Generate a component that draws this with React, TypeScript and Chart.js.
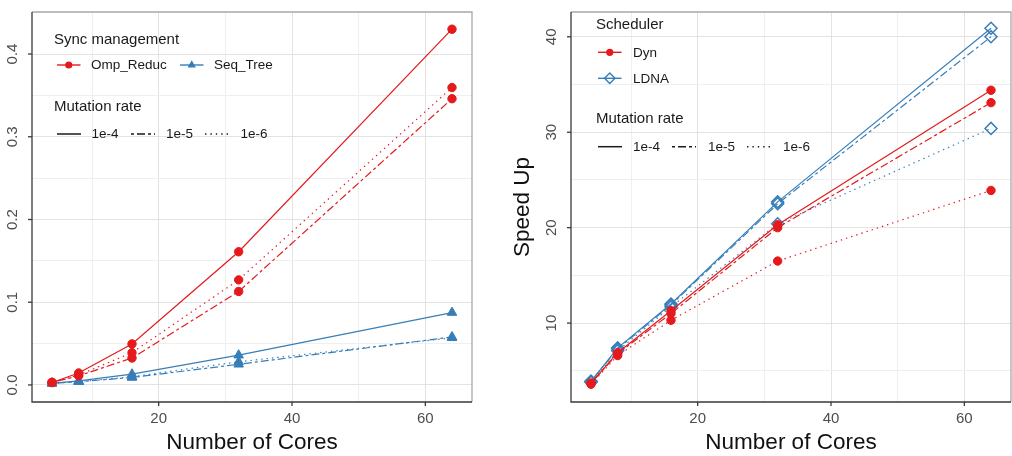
import React, { useEffect, useRef } from 'react';
import { Chart, registerables } from 'chart.js';

Chart.register(...registerables);

// ---------- data ----------
const cores = [4, 8, 16, 32, 64];

// Left panel: time (Sync management)
const ompReduc_1e4 = [0.003, 0.0145, 0.0496, 0.161, 0.43];
const ompReduc_1e5 = [0.003, 0.011, 0.0326, 0.113, 0.346];
const ompReduc_1e6 = [0.003, 0.012, 0.039, 0.127, 0.3595];
const seqTree_1e4 = [0.002, 0.005, 0.013, 0.036, 0.0875];
const seqTree_1e5 = [0.002, 0.004, 0.009, 0.025, 0.058];
const seqTree_1e6 = [0.002, 0.004, 0.01, 0.028, 0.057];

// Right panel: Speed Up (Scheduler)
const dyn_1e4 = [3.7, 6.9, 11.3, 20.3, 34.4];
const dyn_1e5 = [3.7, 6.8, 11.0, 20.0, 33.1];
const dyn_1e6 = [3.6, 6.6, 10.3, 16.5, 23.9];
const ldna_1e4 = [3.9, 7.4, 12.0, 22.7, 40.9];
const ldna_1e5 = [3.9, 7.3, 11.9, 22.5, 40.0];
const ldna_1e6 = [3.8, 7.1, 11.7, 20.4, 30.4];

const xTickValues = [20, 40, 60];
const xGridValues = [10, 20, 30, 40, 50, 60];
const leftYTicks = [0, 0.1, 0.2, 0.3, 0.4];
const leftYTickLabels = ['0.0', '0.1', '0.2', '0.3', '0.4'];
const leftYGrid = [0, 0.05, 0.1, 0.15, 0.2, 0.25, 0.3, 0.35, 0.4];
const rightYTicks = [10, 20, 30, 40];
const rightYTickLabels = ['10', '20', '30', '40'];
const rightYGrid = [5, 10, 15, 20, 25, 30, 35, 40];
const mutationRates = ['1e-4', '1e-5', '1e-6'];
const syncLabels = ['Omp_Reduc', 'Seq_Tree'];
const schedLabels = ['Dyn', 'LDNA'];

// ---------- styles ----------
const RED = '#E41A1C';
const BLUE = '#377EB8';
const FONT = '"Liberation Sans", Arial, sans-serif';
const DASHES: number[][] = [[], [3, 3, 8, 3], [1.4, 4]];

type Marker = 'circle' | 'triangle' | 'diamond';

function markerOpts(m: Marker, color: string) {
  if (m === 'circle') return { pointStyle: 'circle', pointRadius: 4.2, pointBackgroundColor: color, pointBorderColor: color, pointBorderWidth: 1 };
  if (m === 'triangle') return { pointStyle: 'triangle', pointRadius: 5.5, pointBackgroundColor: color, pointBorderColor: color, pointBorderWidth: 1 };
  return { pointStyle: 'rectRot', pointRadius: 6, pointBackgroundColor: 'rgba(255,255,255,0)', pointBorderColor: color, pointBorderWidth: 1.5 };
}

function ds(label: string, vals: number[], color: string, dashIdx: number, m: Marker) {
  return {
    label,
    data: cores.map((c, i) => ({ x: c, y: vals[i] })),
    borderColor: color,
    backgroundColor: color,
    borderWidth: 1.2,
    borderDash: DASHES[dashIdx],
    borderCapStyle: 'butt',
    tension: 0,
    fill: false,
    clip: false,
    ...markerOpts(m, color),
  };
}

function drawMarker(ctx: CanvasRenderingContext2D, m: Marker, x: number, y: number, color: string, r: number) {
  ctx.save();
  ctx.setLineDash([]);
  ctx.fillStyle = color;
  ctx.strokeStyle = color;
  ctx.beginPath();
  if (m === 'circle') {
    ctx.arc(x, y, r, 0, Math.PI * 2);
    ctx.fill();
  } else if (m === 'triangle') {
    for (let k = 0; k < 3; k++) {
      const a = -Math.PI / 2 + (k * 2 * Math.PI) / 3;
      const px = x + Math.cos(a) * r;
      const py = y + Math.sin(a) * r;
      if (k === 0) ctx.moveTo(px, py);
      else ctx.lineTo(px, py);
    }
    ctx.closePath();
    ctx.fill();
  } else {
    ctx.lineWidth = 1.4;
    ctx.moveTo(x, y - r);
    ctx.lineTo(x + r, y);
    ctx.lineTo(x, y + r);
    ctx.lineTo(x - r, y);
    ctx.closePath();
    ctx.stroke();
  }
  ctx.restore();
}

function keyLine(ctx: CanvasRenderingContext2D, x1: number, x2: number, y: number, color: string, dash: number[], width = 1.4) {
  ctx.save();
  ctx.strokeStyle = color;
  ctx.lineWidth = width;
  ctx.setLineDash(dash);
  ctx.beginPath();
  ctx.moveTo(x1, y);
  ctx.lineTo(x2, y);
  ctx.stroke();
  ctx.restore();
}

type LegendSpec = {
  x0: number;
  title1: string;
  title1Y: number;
  entries: { label: string; color: string; marker: Marker; kx: number; tx: number; y: number }[];
  title2Y: number;
  lineRowY: number;
  lineKeys: { kx: number; tx: number }[];
};

function drawLegend(ctx: CanvasRenderingContext2D, L: LegendSpec) {
  ctx.save();
  ctx.fillStyle = '#1a1a1a';
  ctx.textAlign = 'left';
  ctx.textBaseline = 'alphabetic';
  ctx.font = `15px ${FONT}`;
  ctx.fillText(L.title1, L.x0, L.title1Y);
  ctx.fillText('Mutation rate', L.x0, L.title2Y);
  ctx.font = `13.5px ${FONT}`;
  ctx.textBaseline = 'middle';
  L.entries.forEach((e) => {
    keyLine(ctx, e.kx, e.kx + 23.5, e.y, e.color, []);
    drawMarker(ctx, e.marker, e.kx + 11.75, e.y, e.color, e.marker === 'circle' ? 3.6 : e.marker === 'triangle' ? 4.8 : 5.2);
    ctx.fillStyle = '#1a1a1a';
    ctx.fillText(e.label, e.tx, e.y + 0.5);
  });
  L.lineKeys.forEach((k, i) => {
    keyLine(ctx, k.kx, k.kx + 24, L.lineRowY, '#1a1a1a', DASHES[i], 1.5);
    ctx.fillStyle = '#1a1a1a';
    ctx.fillText(mutationRates[i], k.tx, L.lineRowY + 0.5);
  });
  ctx.restore();
}

type PanelSpec = {
  yTicks: number[];
  yLabels: string[];
  yTitle?: string;
  yTitleX?: number;
  legend: LegendSpec;
};

function decorPlugin(p: PanelSpec) {
  return {
    id: 'decor',
    afterDraw(chart: any) {
      const ctx: CanvasRenderingContext2D = chart.ctx;
      const a = chart.chartArea;
      const sx = chart.scales.x;
      const sy = chart.scales.y;
      ctx.save();
      ctx.setLineDash([]);
      ctx.lineWidth = 1.3;
      ctx.strokeStyle = '#a8a8a8';
      ctx.beginPath();
      ctx.moveTo(a.left, a.top);
      ctx.lineTo(a.right, a.top);
      ctx.lineTo(a.right, a.bottom);
      ctx.stroke();
      ctx.strokeStyle = '#3a3a3a';
      ctx.beginPath();
      ctx.moveTo(a.left, a.top);
      ctx.lineTo(a.left, a.bottom);
      ctx.lineTo(a.right, a.bottom);
      ctx.stroke();

      ctx.font = `15px ${FONT}`;
      ctx.fillStyle = '#4d4d4d';
      ctx.textAlign = 'center';
      ctx.textBaseline = 'alphabetic';
      xTickValues.forEach((v) => {
        const px = sx.getPixelForValue(v);
        ctx.beginPath();
        ctx.moveTo(px, a.bottom);
        ctx.lineTo(px, a.bottom + 4);
        ctx.stroke();
        ctx.fillText(String(v), px, a.bottom + 20.7);
      });
      p.yTicks.forEach((v, i) => {
        const py = sy.getPixelForValue(v);
        ctx.beginPath();
        ctx.moveTo(a.left - 4, py);
        ctx.lineTo(a.left, py);
        ctx.stroke();
        ctx.save();
        ctx.translate(a.left - 15.5, py);
        ctx.rotate(-Math.PI / 2);
        ctx.fillText(p.yLabels[i], 0, 0);
        ctx.restore();
      });

      ctx.fillStyle = '#111';
      ctx.font = `22.5px ${FONT}`;
      ctx.fillText('Number of Cores', (a.left + a.right) / 2, a.bottom + 47);
      if (p.yTitle) {
        ctx.save();
        ctx.translate(p.yTitleX as number, (a.top + a.bottom) / 2);
        ctx.rotate(-Math.PI / 2);
        ctx.fillText(p.yTitle, 0, 0);
        ctx.restore();
      }

      drawLegend(ctx, p.legend);
      ctx.restore();
    },
  };
}

function buildConfig(opts: {
  datasets: any[];
  yMin: number;
  yMax: number;
  yGrid: number[];
  yAxisWidth: number;
  padRight: number;
  panel: PanelSpec;
}) {
  return {
    type: 'line',
    data: { datasets: opts.datasets },
    options: {
      animation: false,
      responsive: false,
      devicePixelRatio: 1,
      layout: { autoPadding: false, padding: { top: 12, right: opts.padRight, left: 0, bottom: 0 } },
      plugins: { legend: { display: false }, tooltip: { enabled: false } },
      scales: {
        x: {
          type: 'linear',
          min: 1,
          max: 67,
          afterBuildTicks: (s: any) => {
            s.ticks = xGridValues.map((v) => ({ value: v }));
          },
          afterFit: (s: any) => {
            s.height = 54;
          },
          ticks: { display: false },
          grid: {
            drawTicks: false,
            color: (c: any) => (c.tick && c.tick.value % 20 === 0 ? '#e3e3e3' : '#efefef'),
            lineWidth: 1,
          },
          border: { display: false },
        },
        y: {
          type: 'linear',
          min: opts.yMin,
          max: opts.yMax,
          afterBuildTicks: (s: any) => {
            s.ticks = opts.yGrid.map((v) => ({ value: v }));
          },
          afterFit: (s: any) => {
            s.width = opts.yAxisWidth;
          },
          ticks: { display: false },
          grid: {
            drawTicks: false,
            color: (c: any) => {
              if (!c.tick) return '#efefef';
              const isMajor = opts.panel.yTicks.some((t) => Math.abs(t - c.tick.value) < 1e-9);
              return isMajor ? '#e3e3e3' : '#efefef';
            },
            lineWidth: 1,
          },
          border: { display: false },
        },
      },
    },
    plugins: [decorPlugin(opts.panel)],
  };
}

const leftPanel: PanelSpec = {
  yTicks: leftYTicks,
  yLabels: leftYTickLabels,
  legend: {
    x0: 54,
    title1: 'Sync management',
    title1Y: 44,
    entries: [
      { label: syncLabels[0], color: RED, marker: 'circle', kx: 57, tx: 91, y: 65 },
      { label: syncLabels[1], color: BLUE, marker: 'triangle', kx: 180, tx: 214, y: 65 },
    ],
    title2Y: 110.5,
    lineRowY: 134,
    lineKeys: [
      { kx: 57, tx: 91.5 },
      { kx: 131, tx: 166 },
      { kx: 205, tx: 240.5 },
    ],
  },
};

const rightPanel: PanelSpec = {
  yTicks: rightYTicks,
  yLabels: rightYTickLabels,
  yTitle: 'Speed Up',
  yTitleX: 29,
  legend: {
    x0: 96,
    title1: 'Scheduler',
    title1Y: 28.5,
    entries: [
      { label: schedLabels[0], color: RED, marker: 'circle', kx: 98, tx: 133, y: 52.3 },
      { label: schedLabels[1], color: BLUE, marker: 'diamond', kx: 98, tx: 133, y: 78.3 },
    ],
    title2Y: 123.3,
    lineRowY: 146.7,
    lineKeys: [
      { kx: 98, tx: 133 },
      { kx: 172, tx: 208 },
      { kx: 247, tx: 283 },
    ],
  },
};

function ChartCanvas({ config, width, left }: { config: () => any; width: number; left: number }) {
  const ref = useRef<HTMLCanvasElement | null>(null);
  useEffect(() => {
    if (!ref.current) return;
    const chart = new Chart(ref.current, config());
    return () => chart.destroy();
  }, []);
  return (
    <canvas
      ref={ref}
      width={width}
      height={456}
      style={{ position: 'absolute', left, top: 0, width, height: 456 }}
    />
  );
}

export default function App() {
  const leftConfig = () =>
    buildConfig({
      datasets: [
        ds('Omp_Reduc 1e-4', ompReduc_1e4, RED, 0, 'circle'),
        ds('Omp_Reduc 1e-5', ompReduc_1e5, RED, 1, 'circle'),
        ds('Omp_Reduc 1e-6', ompReduc_1e6, RED, 2, 'circle'),
        ds('Seq_Tree 1e-4', seqTree_1e4, BLUE, 0, 'triangle'),
        ds('Seq_Tree 1e-5', seqTree_1e5, BLUE, 1, 'triangle'),
        ds('Seq_Tree 1e-6', seqTree_1e6, BLUE, 2, 'triangle'),
      ],
      yMin: -0.0206,
      yMax: 0.4508,
      yGrid: leftYGrid,
      yAxisWidth: 32,
      padRight: 28,
      panel: leftPanel,
    });
  const rightConfig = () =>
    buildConfig({
      datasets: [
        ds('Dyn 1e-4', dyn_1e4, RED, 0, 'circle'),
        ds('Dyn 1e-5', dyn_1e5, RED, 1, 'circle'),
        ds('Dyn 1e-6', dyn_1e6, RED, 2, 'circle'),
        ds('LDNA 1e-4', ldna_1e4, BLUE, 0, 'diamond'),
        ds('LDNA 1e-5', ldna_1e5, BLUE, 1, 'diamond'),
        ds('LDNA 1e-6', ldna_1e6, BLUE, 2, 'diamond'),
      ],
      yMin: 1.73,
      yMax: 42.6,
      yGrid: rightYGrid,
      yAxisWidth: 71,
      padRight: 1,
      panel: rightPanel,
    });
  return (
    <div style={{ position: 'absolute', left: 0, top: 0, width: 1012, height: 456, background: '#fff', overflow: 'hidden' }}>
      <ChartCanvas config={leftConfig} width={500} left={0} />
      <ChartCanvas config={rightConfig} width={512} left={500} />
    </div>
  );
}
